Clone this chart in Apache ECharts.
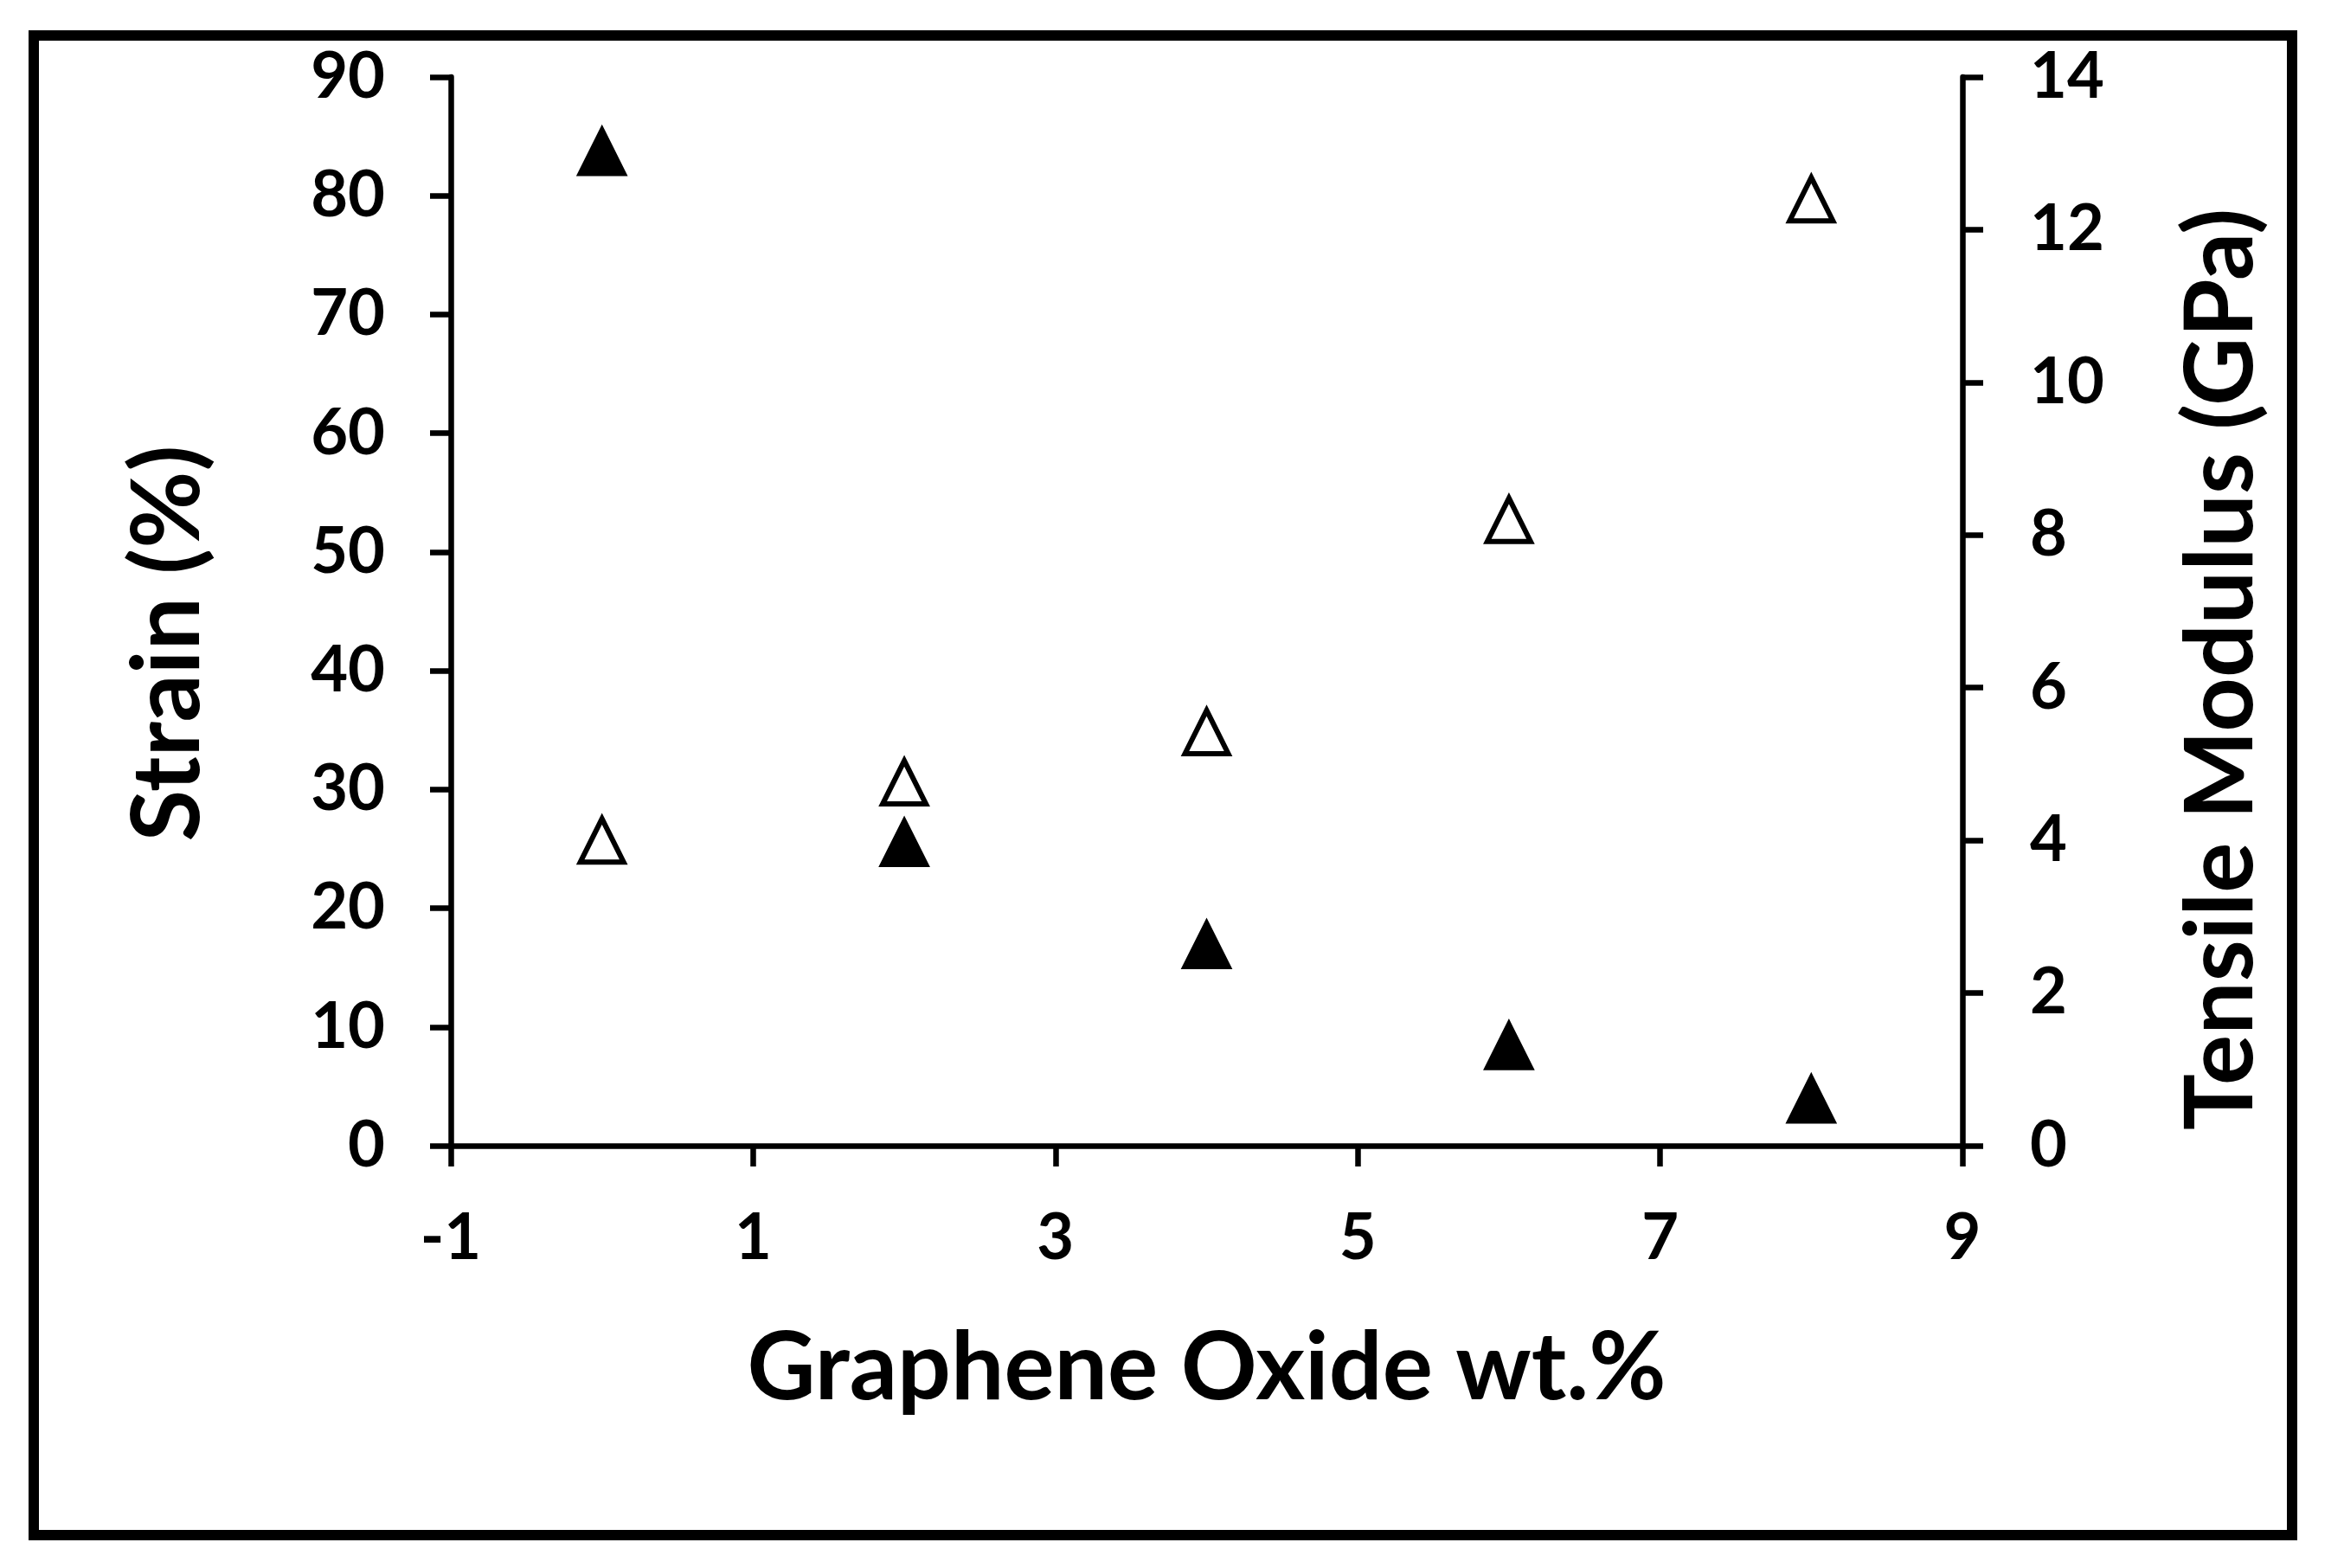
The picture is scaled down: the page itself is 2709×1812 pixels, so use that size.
<!DOCTYPE html>
<html>
<head>
<meta charset="utf-8">
<title>Strain and tensile modulus vs graphene oxide</title>
<script src="https://cdn.jsdelivr.net/npm/echarts@6/dist/echarts.min.js"></script>
<style>
  html, body { margin: 0; padding: 0; background: #fff; }
  #chart { width: 2709px; height: 1812px; }
</style>
</head>
<body>
<div id="chart"></div>
<script>
// GO loading (wt.%)
const goContent = [0, 2, 4, 6, 8]
// filled triangles, left axis
const strain = [83.7, 25.5, 16.9, 8.4, 3.9]
// open triangles, right axis
const modulus = [4.0, 4.76, 5.42, 8.2, 12.4]

const xTitle = 'Graphene Oxide wt.%'
const leftTitle = 'Strain (%)'
const rightTitle = 'Tensile Modulus (GPa)'

const font = 'Lato'
const black = '#000'

const myChart = echarts.init(document.getElementById('chart'))

const axisCommon = {
  axisLine: { show: true, onZero: false, lineStyle: { color: black, width: 6.5 } },
  axisTick: { show: true, inside: false, length: 24, lineStyle: { color: black, width: 6.5 } },
  splitLine: { show: false },
  axisLabel: { color: black, fontFamily: font, fontWeight: 'bold', fontSize: 74 },
  nameLocation: 'middle',
  nameTextStyle: { color: black, fontFamily: font, fontWeight: 'bold', fontSize: 109 }
}

const option = {
  animation: false,
  backgroundColor: '#fff',
  grid: { left: 521, right: 441, top: 89, bottom: 488, containLabel: false },
  graphic: [
    {
      type: 'rect',
      shape: { x: 39, y: 41, width: 2610, height: 1733 },
      style: { fill: null, stroke: black, lineWidth: 12 },
      z: 0
    }
  ],
  xAxis: {
    ...axisCommon,
    type: 'value',
    min: -1,
    max: 9,
    interval: 2,
    name: xTitle,
    nameGap: 203,
    axisLabel: { ...axisCommon.axisLabel, margin: 70 }
  },
  yAxis: [
    {
      ...axisCommon,
      type: 'value',
      position: 'left',
      min: 0,
      max: 90,
      interval: 10,
      name: leftTitle,
      nameRotate: 90,
      nameGap: 272,
      nameTextStyle: { ...axisCommon.nameTextStyle, padding: [0, 74, 0, 0] },
      axisLabel: { ...axisCommon.axisLabel, margin: 76 }
    },
    {
      ...axisCommon,
      type: 'value',
      position: 'right',
      min: 0,
      max: 14,
      interval: 2,
      name: rightTitle,
      nameRotate: 90,
      nameGap: 245,
      nameTextStyle: { ...axisCommon.nameTextStyle, padding: [0, 134, 0, 0] },
      axisLabel: { ...axisCommon.axisLabel, margin: 78 }
    }
  ],
  series: [
    {
      name: 'Strain',
      type: 'scatter',
      yAxisIndex: 0,
      symbol: 'triangle',
      symbolSize: 50,
      data: goContent.map((x, i) => [x, strain[i]]),
      itemStyle: { color: black, borderColor: black, borderWidth: 6, opacity: 1 }
    },
    {
      name: 'Tensile Modulus',
      type: 'scatter',
      yAxisIndex: 1,
      symbol: 'triangle',
      symbolSize: 50,
      data: goContent.map((x, i) => [x, modulus[i]]),
      itemStyle: { color: '#fff', borderColor: black, borderWidth: 6, opacity: 1 }
    }
  ]
}

myChart.setOption(option)
window.addEventListener('resize', () => {
  myChart.resize()
})
</script>
</body>
</html>
